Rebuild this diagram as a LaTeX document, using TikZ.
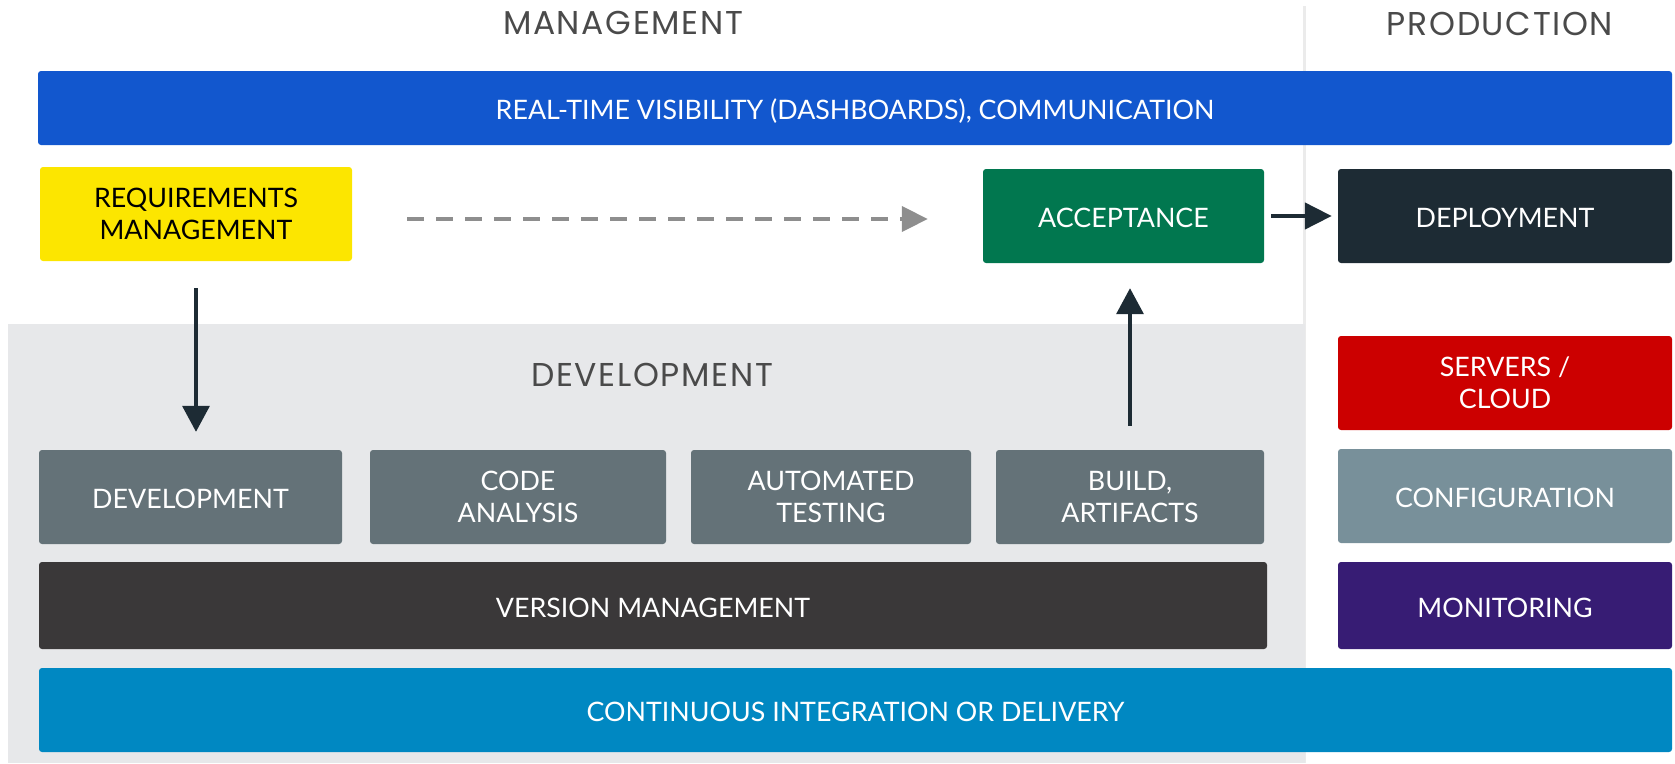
\documentclass[tikz,border=0pt]{standalone}
\usepackage{fontspec}
\setmainfont{Lato}
\newfontfamily\headfont{Poppins}[LetterSpace=5]
\usetikzlibrary{arrows.meta}

\definecolor{visblue}{HTML}{1257CE}
\definecolor{reqyellow}{HTML}{FCE600}
\definecolor{accgreen}{HTML}{01774F}
\definecolor{depnavy}{HTML}{1D2B34}
\definecolor{regiongray}{HTML}{E7E8EA}
\definecolor{devslate}{HTML}{647278}
\definecolor{vercharcoal}{HTML}{3A3839}
\definecolor{ciblue}{HTML}{0088C2}
\definecolor{srvred}{HTML}{CC0000}
\definecolor{cfggray}{HTML}{78909A}
\definecolor{monpurple}{HTML}{371C74}
\definecolor{headgray}{HTML}{4A4A4A}
\definecolor{dashgray}{HTML}{8E8E8E}
\definecolor{sepgray}{HTML}{EBEBEB}

\tikzset{
  box/.style={rounded corners=3pt, inner sep=0pt, align=center, text=white,
    font=\fontsize{26.8}{32}\selectfont},
  oneline/.style={text height=23pt, text depth=0pt},
  heading/.style={text=headgray, inner sep=0pt, font=\headfont\fontsize{33}{36}\selectfont},
  flow/.style={draw=depnavy, line width=3.5pt, -{Triangle[width=27pt,length=26pt]}},
  hint/.style={draw=dashgray, line width=4pt, dash pattern=on 17pt off 12pt,
    -{Triangle[width=25pt,length=26pt]}}
}

\begin{document}
\begin{tikzpicture}[x=1pt,y=-1pt]
\useasboundingbox (0,0) rectangle (1675,763);

% column separator and development area
\draw[sepgray, line width=3pt] (1304,6) -- (1304,763);
\fill[regiongray] (8,324) rectangle (1305,763);

% headings
\node[heading] (hmgmt) at (623,23) {MANAGEMENT};
\node[heading] (hprod) at (1500,24) {PRODUCTION};
\node[heading] (hdev) at (652,375) {DEVELOPMENT};

% management row
\node[box, oneline, fill=visblue, minimum width=1634pt, minimum height=74pt] (vis) at (855,108)
  {REAL-TIME VISIBILITY (DASHBOARDS), COMMUNICATION};
\node[box, fill=reqyellow, text=black, minimum width=312pt, minimum height=94pt] (req) at (196,214)
  {REQUIREMENTS\\MANAGEMENT};
\node[box, oneline, fill=accgreen, minimum width=281pt, minimum height=94pt] (acc) at (1123.5,216)
  {ACCEPTANCE};
\node[box, oneline, fill=depnavy, minimum width=334pt, minimum height=94pt] (dep) at (1505,216)
  {DEPLOYMENT};

% development stages
\node[box, oneline, fill=devslate, minimum width=303pt, minimum height=94pt] (dev) at (190.5,497)
  {DEVELOPMENT};
\node[box, fill=devslate, minimum width=296pt, minimum height=94pt] (code) at (518,497)
  {CODE\\ANALYSIS};
\node[box, fill=devslate, minimum width=280pt, minimum height=94pt] (auto) at (831,497)
  {AUTOMATED\\TESTING};
\node[box, fill=devslate, minimum width=268pt, minimum height=94pt] (build) at (1130,497)
  {BUILD,\\ARTIFACTS};
\node[box, oneline, fill=vercharcoal, minimum width=1228pt, minimum height=87pt] (ver) at (653,605.5)
  {VERSION MANAGEMENT};
\node[box, oneline, fill=ciblue, minimum width=1633pt, minimum height=84pt] (ci) at (855.5,710)
  {CONTINUOUS INTEGRATION OR DELIVERY};

% production column
\node[box, fill=srvred, minimum width=334pt, minimum height=94pt] (srv) at (1505,383)
  {SERVERS /\\CLOUD};
\node[box, oneline, fill=cfggray, minimum width=334pt, minimum height=94pt] (cfg) at (1505,496)
  {CONFIGURATION};
\node[box, oneline, fill=monpurple, minimum width=334pt, minimum height=87pt] (mon) at (1505,605.5)
  {MONITORING};

% connectors
\draw[hint, shorten <=55pt, shorten >=55pt] ([yshift=-5pt]req.east) -- ([yshift=-5pt]req.east -| acc.west);
\draw[flow, shorten <=27pt, shorten >=18pt] (req.south) -- (req.south |- dev.north);
\draw[flow, shorten <=24pt, shorten >=25pt] (build.north) -- (build.north |- acc.south);
\draw[flow, line width=4.5pt, -{Triangle[width=26pt,length=27pt]}, shorten <=7pt, shorten >=6pt]
  (acc.east) -- (dep.west);
\end{tikzpicture}
\end{document}
